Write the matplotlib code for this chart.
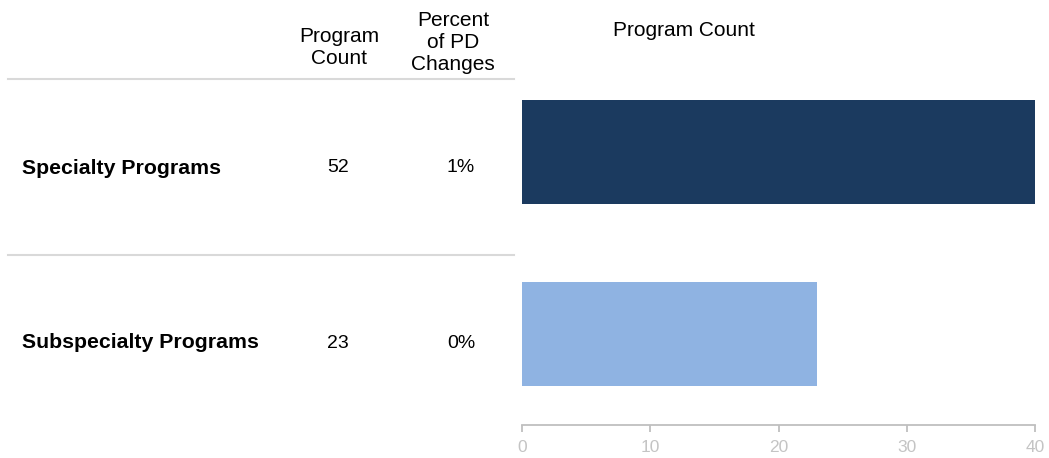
import matplotlib.pyplot as plt

plt.rcParams['font.family'] = ['Liberation Sans', 'DejaVu Sans']

# data
categories = ['Specialty Programs', 'Subspecialty Programs']
program_count = [52, 23]
percent_pd_changes = ['1%', '0%']
bar_colors = ['#1b3a5f', '#8fb3e2']

fig = plt.figure(figsize=(10.49, 4.58), dpi=100)
W, H = 1049, 458


def fx(px):
    return px / W


def fy(py):
    return 1 - py / H


# bar axes (x limited to 40, so the 52 bar is cut at the edge)
ax = fig.add_axes([fx(522), fy(425), fx(1035 - 522), (425 - 79) / H])
ypos = [1, 0]
ax.barh(ypos, program_count, height=0.571, color=bar_colors)
ax.set_xlim(0, 40)
ax.set_ylim(-0.5, 1.401)
ax.set_xticks([0, 10, 20, 30, 40])
for s in ['top', 'right', 'left']:
    ax.spines[s].set_visible(False)
ax.spines['bottom'].set_color('#bfbfbf')
ax.spines['bottom'].set_linewidth(1.3)
ax.set_yticks([])
ax.tick_params(axis='x', colors='#bfbfbf', labelcolor='#c4c4c4',
               labelsize=12.5, length=5, width=1.3, pad=6)

# column headers
fig.text(fx(339), fy(48), 'Program\nCount', ha='center', va='center',
         fontsize=15, linespacing=1.2)
fig.text(fx(453), fy(42), 'Percent\nof PD\nChanges', ha='center', va='center',
         fontsize=15, linespacing=1.2)
fig.text(fx(684), fy(30), 'Program Count', ha='center', va='center', fontsize=15)

# separator lines
for py in [79, 255]:
    fig.add_artist(plt.Line2D([fx(8), fx(514)], [fy(py), fy(py)],
                              color='#d9d9d9', linewidth=1.5))

# table rows
row_y = [168, 343]
for name, cnt, pct, py in zip(categories, program_count, percent_pd_changes, row_y):
    fig.text(fx(22), fy(py), name, ha='left', va='center',
             fontsize=15.3, fontweight='bold')
    fig.text(fx(338), fy(py), str(cnt), ha='center', va='center', fontsize=14)
    fig.text(fx(461), fy(py), pct, ha='center', va='center', fontsize=14)

fig.savefig('out.png', dpi=100)
